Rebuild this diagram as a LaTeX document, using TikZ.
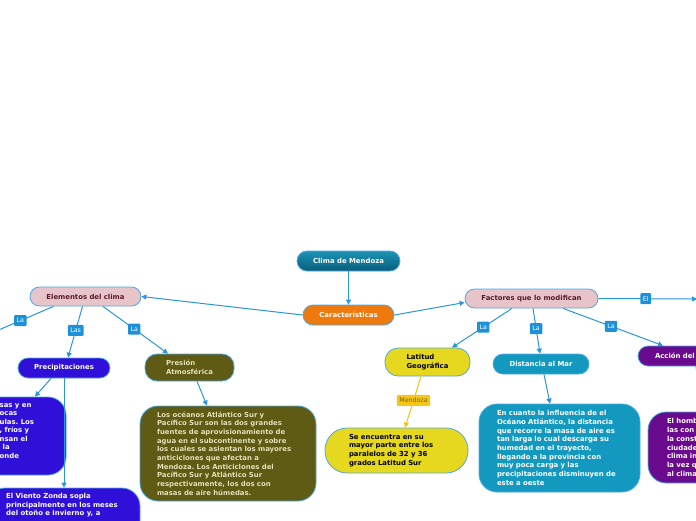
\documentclass[tikz,border=0pt]{standalone}
\usepackage{fontspec}
\setmainfont{DejaVu Sans}
\usetikzlibrary{arrows.meta}
\frenchspacing
\definecolor{conn}{HTML}{2A96DC}
\definecolor{edge}{HTML}{4FA8E2}
\definecolor{lblue}{HTML}{1E90D8}
\definecolor{climatop}{HTML}{1C94B6}
\definecolor{climabot}{HTML}{0A5C7A}
\definecolor{orangec}{HTML}{EE7A0E}
\definecolor{pinkc}{HTML}{E6C4C9}
\definecolor{maroon}{HTML}{5B1A2E}
\definecolor{violetc}{HTML}{3010D8}
\definecolor{olivec}{HTML}{5F5A14}
\definecolor{beige}{HTML}{E4E0B8}
\definecolor{yellowc}{HTML}{E6D81E}
\definecolor{goldc}{HTML}{F5C518}
\definecolor{goldtext}{HTML}{7A6412}
\definecolor{goldline}{HTML}{F0C419}
\definecolor{tealc}{HTML}{1399C0}
\definecolor{purplec}{HTML}{6A0A8C}
\begin{document}
\begin{tikzpicture}[x=1pt,y=-1pt,
  box/.style={draw=edge, line width=0.8pt, inner ysep=0pt, inner xsep=0pt, align=center,
    font=\fontsize{6.9}{8.7}\selectfont\bfseries},
  pill/.style={box, rounded corners=10pt, minimum height=20pt},
  bigbox/.style={box, align=left, rounded corners=18pt},
  bodytext/.style={inner sep=0pt, align=left, anchor=north west, text=white,
    font=\fontsize{6.9}{8.55}\selectfont\bfseries},
  link/.style={draw=conn, line width=1pt, -{Triangle[length=5pt,width=5pt]}},
  lbl/.style={fill=lblue, text=white, font=\fontsize{6.3}{7}\selectfont, inner xsep=2.5pt,
    inner ysep=2pt, rounded corners=1pt, minimum height=11pt},
]
\useasboundingbox (0,0) rectangle (696,520);
\clip (0,0) rectangle (696,520);
\fill[white] (0,0) rectangle (696,520);

% main nodes
\node[pill, top color=climatop, bottom color=climabot, text=white, minimum width=103pt] (clima) at (348.5,261) {Clima de Mendoza};
\node[pill, fill=orangec, text=white, minimum width=91pt] (carac) at (348.5,315) {Características};
\node[pill, fill=pinkc, text=maroon, minimum width=111pt, minimum height=19pt, rounded corners=9.5pt] (elem) at (85.5,296.5) {Elementos del clima};
\node[pill, fill=pinkc, text=maroon, minimum width=133pt, minimum height=19pt, rounded corners=9.5pt] (fact) at (531.5,298.5) {Factores que lo modifican};
\node[pill, fill=violetc, text=white, minimum width=92pt] (precip) at (64,368) {Precipitaciones};
\node[box, align=left, fill=olivec, text=beige, minimum width=89pt, minimum height=27pt, rounded corners=12pt] (presion) at (189.5,367.5) {Presión\\Atmosférica};
\node[box, align=left, fill=yellowc, text=black, minimum width=85pt, minimum height=28pt, rounded corners=13pt] (latitud) at (427.5,362) {Latitud\\Geográfica};
\node[pill, fill=tealc, text=white, minimum width=96pt] (dist) at (541,364) {Distancia al Mar};
\node[pill, align=left, fill=purplec, text=white, minimum width=110pt, inner xsep=17pt, text width=76pt] (accion) at (693,356) {Acción del};

% big boxes
\node[bigbox, fill=olivec, text=beige, minimum width=176pt, minimum height=95pt, inner xsep=17pt, text width=142pt] (olive) at (228,453.5) {Los océanos Atlántico Sur y\\Pacífico Sur son las dos grandes\\fuentes de aprovisionamiento de\\agua en el subcontinente y sobre\\los cuales se asientan los mayores\\anticiclones que afectan a\\Mendoza. Los Anticiclones del\\Pacífico Sur y Atlántico Sur\\respectivamente, los dos con\\masas de aire húmedas.};
\node[bigbox, fill=yellowc, text=black, rounded corners=22pt, minimum width=143pt, minimum height=45pt, inner xsep=24pt, text width=95pt] (ybox) at (396.5,450.5) {Se encuentra en su\\mayor parte entre los\\paralelos de 32 y 36\\grados Latitud Sur};
\node[bigbox, fill=tealc, text=white, minimum width=161pt, minimum height=88pt, inner xsep=18pt, text width=125pt] (tbox) at (559.5,448) {En cuanto la influencia de el\\Océano Atlántico, la distancia\\que recorre la masa de aire es\\tan larga lo cual descarga su\\humedad en el trayecto,\\llegando a la provincia con\\muy poca carga y las\\precipitaciones disminuyen de\\este a oeste};
\node[bigbox, fill=purplec, text=white, minimum width=120pt, minimum height=71pt, inner xsep=19pt, text width=82pt] (pbox) at (708,447.5) {El homb\\las con\\la const\\ciudade\\clima in\\la vez q\\al clima};
\node[bigbox, fill=violetc, minimum width=126pt, minimum height=78pt] (lbox) at (3,436) {};
\node[bodytext] (ltext) at (-0.5,403) {sas y en\\ocas\\ulas. Los\\, fríos y\\nsan el\\\hspace*{3pt}la\\onde};
\node[bigbox, fill=violetc, minimum width=153pt, minimum height=72pt] (bbox) at (63.5,524) {};
\node[bodytext] (btext) at (6,493) {El Viento Zonda sopla\\principalmente en los meses\\del otoño e invierno y, a};

% free ends
\coordinate (offL) at (-20,338);
\coordinate (offR) at (697,299);

% connectors
\draw[link] (clima) -- (carac);
\draw[link] (carac.west) -- (elem.east);
\draw[link] (carac.east) -- ([yshift=-4pt]fact.west);
\draw[link] ([xshift=-32pt]elem.south) -- node[lbl,pos=0.45] (l1) {La} (offL);
\draw[link] ([xshift=-3pt]elem.south) -- node[lbl,pos=0.47] (l2) {Las} ([xshift=4pt]precip.north);
\draw[link] ([xshift=17.5pt]elem.south) -- node[lbl,pos=0.48] (l3) {La} ([xshift=-21.5pt]presion.north);
\draw[link] ([xshift=-13pt]precip.south) -- ([xshift=32pt]lbox.north);
\draw[link] (precip.south) -- (precip.south |- bbox.north);
\draw[link] ([xshift=7.5pt]presion.south) -- ([xshift=-21pt]olive.north);
\draw[link] ([xshift=-19.5pt]fact.south) -- node[lbl,pos=0.48] (l4) {La} ([xshift=24.5pt]latitud.north);
\draw[link] ([xshift=1.5pt]fact.south) -- node[lbl,pos=0.45] (l5) {La} ([xshift=-1pt]dist.north);
\draw[link] ([xshift=31.5pt]fact.south) -- node[lbl,pos=0.48] (l6) {La} ([xshift=-30pt]accion.north);
\draw[link] (fact.east) -- node[lbl,pos=0.48] (l7) {El} (offR);
\draw[link, draw=goldline] ([xshift=-6.5pt]latitud.south) -- node[lbl, fill=goldc, text=goldtext, pos=0.47] (l8) {Mendoza} ([xshift=8.5pt]ybox.north);
\draw[link] ([xshift=3pt]dist.south) -- ([xshift=-9.5pt]tbox.north);
\draw[link] ([xshift=3pt]accion.south) -- ([xshift=-6pt]pbox.north);
\end{tikzpicture}
\end{document}
